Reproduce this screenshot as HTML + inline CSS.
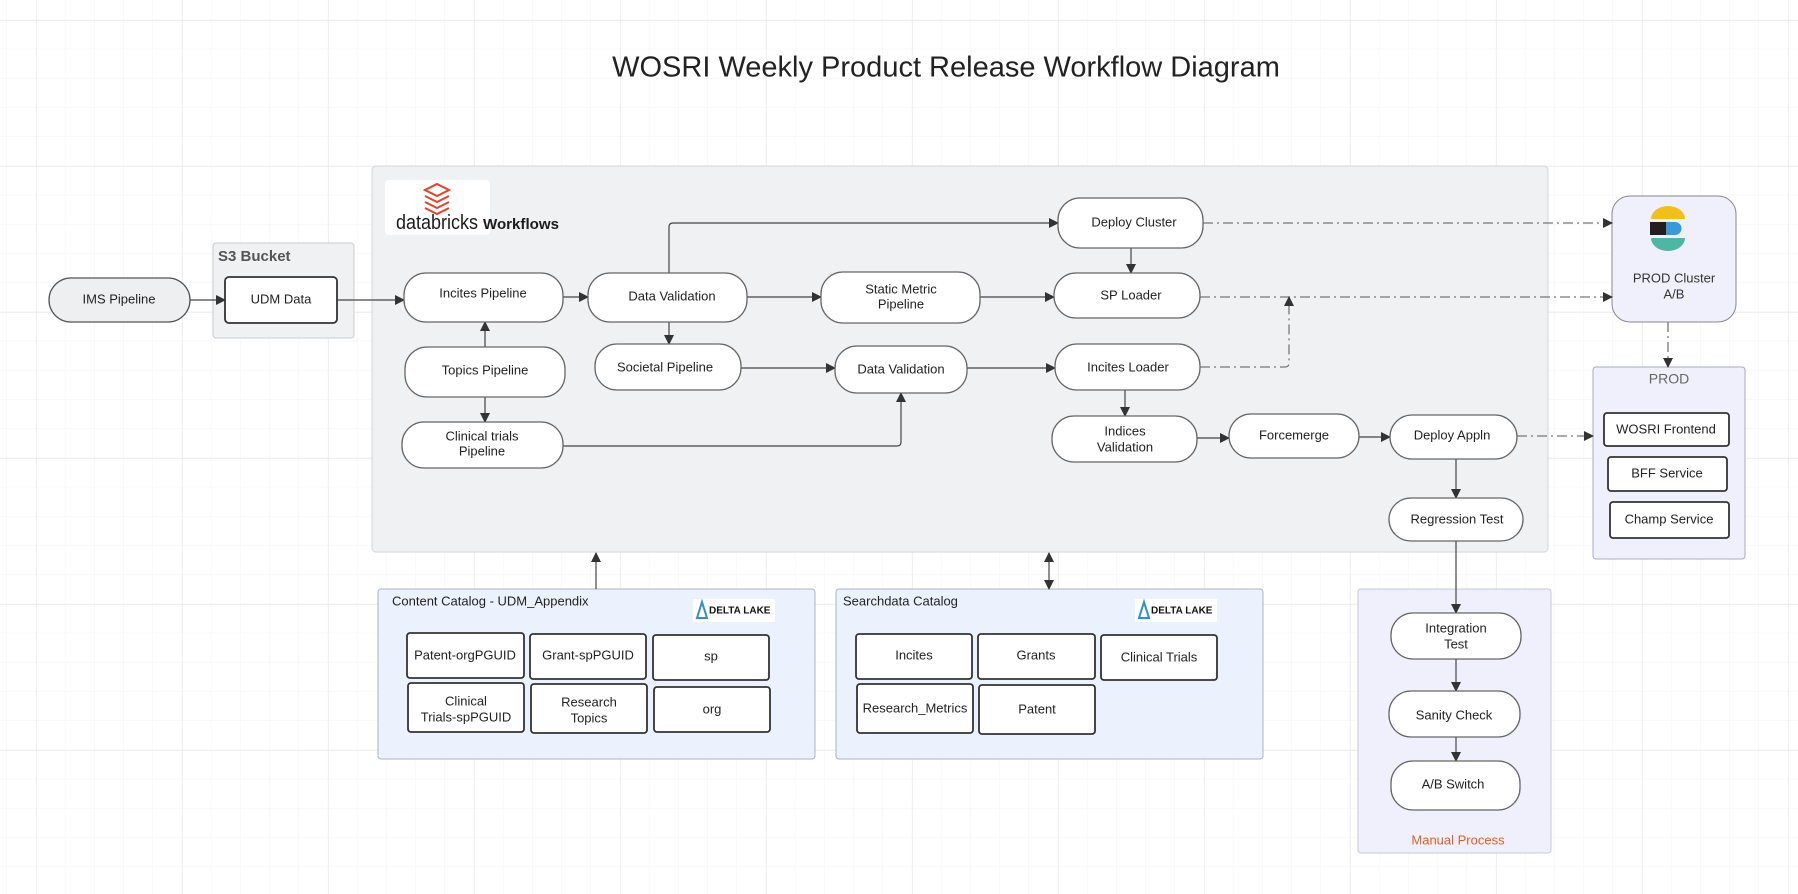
<!DOCTYPE html>
<html><head><meta charset="utf-8"><style>
html,body{margin:0;padding:0;background:#fff}
svg{display:block;font-family:"Liberation Sans",sans-serif}
.p{fill:#fff;stroke:#666;stroke-width:1.3}
.c{fill:#fff;stroke:#333;stroke-width:1.8}
.t{font-size:13px;fill:#222;text-anchor:middle;dominant-baseline:middle}
.l{stroke:#444;stroke-width:1.2;fill:none}
.d{stroke:#777;stroke-width:1.3;fill:none;stroke-dasharray:10 4 2 4}
</style></head><body>
<svg width="1798" height="894" viewBox="0 0 1798 894">
<defs>
<pattern id="g1" width="29.2" height="29.2" patternUnits="userSpaceOnUse" x="7" y="20"><path d="M29.2 0V29.2H0" fill="none" stroke="#f3f3f3" stroke-width="1"/></pattern>
<pattern id="g2" width="146" height="146" patternUnits="userSpaceOnUse" x="36" y="20"><path d="M0 0V146M0 0H146" fill="none" stroke="#e2e2e2" stroke-width="1"/></pattern>
<marker id="a" markerWidth="10" markerHeight="10" refX="9" refY="5" orient="auto" markerUnits="userSpaceOnUse"><path d="M0 0L10 5L0 10z" fill="#333"/></marker>
<marker id="s" markerWidth="10" markerHeight="10" refX="1" refY="5" orient="auto" markerUnits="userSpaceOnUse"><path d="M10 0L0 5L10 10z" fill="#333"/></marker>
</defs>
<rect width="1798" height="894" fill="url(#g1)"/>
<rect width="1798" height="894" fill="url(#g2)"/>
<text x="946" y="69" font-size="29" fill="#222" text-anchor="middle" dominant-baseline="middle">WOSRI Weekly Product Release Workflow Diagram</text>

<rect x="372" y="166" width="1176" height="386" rx="4" fill="#f0f1f3" stroke="#d3d5da"/>
<rect x="385" y="180" width="105" height="55" rx="4" fill="#fff"/>
<g fill="none" stroke="#e2412b" stroke-width="2"><path d="M425 190l12-6 12 6-12 6z"/><path d="M425 196l12 6 12-6"/><path d="M425 202l12 6 12-6"/><path d="M425 208l12 6 12-6"/></g>
<text x="396" y="229" font-size="20" fill="#1b1b1b" textLength="82" lengthAdjust="spacingAndGlyphs">databricks</text>
<text x="483" y="229" font-size="15" fill="#1b1b1b" font-weight="bold" textLength="76" lengthAdjust="spacingAndGlyphs">Workflows</text>

<rect x="213" y="243" width="141" height="95" rx="3" fill="#f0f1f3" stroke="#c9cbd0"/>
<text x="218" y="257" font-size="15" font-weight="bold" fill="#555" dominant-baseline="middle">S3 Bucket</text>

<rect x="1612" y="196" width="124" height="126" rx="18" fill="#f0f0fc" stroke="#888"/>
<g><path d="M1651 219a17 13 0 0 1 34 0z" fill="#f0bf1a"/><rect x="1650" y="222" width="16" height="13" fill="#231f20"/><path d="M1666 222h9a6.5 6.5 0 0 1 0 13h-9z" fill="#3a9ad9"/><path d="M1651 238h34a17 13 0 0 1-34 0z" fill="#4fb6a3"/></g>
<text class="t" x="1674" y="279" style="font-size:13px;fill:#333">PROD Cluster</text>
<text class="t" x="1674" y="295" style="font-size:13px;fill:#333">A/B</text>

<rect x="1593" y="367" width="152" height="192" rx="3" fill="#f0f0fc" stroke="#a9abc4"/>
<text class="t" x="1669" y="380" style="fill:#666;font-size:14px">PROD</text>

<rect x="378" y="589" width="437" height="170" rx="3" fill="#ebf2fd" stroke="#a8b3c4"/>
<text x="392" y="602" font-size="13" fill="#222" dominant-baseline="middle">Content Catalog - UDM_Appendix</text>
<rect x="836" y="589" width="427" height="170" rx="3" fill="#ebf2fd" stroke="#a8b3c4"/>
<text x="843" y="602" font-size="13" fill="#222" dominant-baseline="middle">Searchdata Catalog</text>
<g>
<rect x="693" y="599" width="82" height="23" fill="#fff"/><path d="M702 602l-5 16h10z" fill="none" stroke="#2e8fd1" stroke-width="2"/><text x="709" y="611" font-size="10" font-weight="bold" fill="#111" dominant-baseline="middle">DELTA LAKE</text>
<rect x="1135" y="599" width="82" height="23" fill="#fff"/><path d="M1144 602l-5 16h10z" fill="none" stroke="#2e8fd1" stroke-width="2"/><text x="1151" y="611" font-size="10" font-weight="bold" fill="#111" dominant-baseline="middle">DELTA LAKE</text>
</g>

<rect x="1358" y="589" width="193" height="264" rx="3" fill="#f0f0fc" stroke="#c5c7dc"/>
<text class="t" x="1458" y="841" style="fill:#d9622b">Manual Process</text>

<path class="l" d="M190 300H225" marker-end="url(#a)"/>
<path class="l" d="M337 300H404" marker-end="url(#a)"/>
<path class="l" d="M563 297H588" marker-end="url(#a)"/>
<path class="l" d="M747 297H821" marker-end="url(#a)"/>
<path class="l" d="M669 273V227q0-4 4-4H1058" marker-end="url(#a)"/>
<path class="l" d="M669 322V344" marker-end="url(#a)"/>
<path class="l" d="M485 347V322" marker-end="url(#a)"/>
<path class="l" d="M485 397V422" marker-end="url(#a)"/>
<path class="l" d="M741 368H835" marker-end="url(#a)"/>
<path class="l" d="M563 446H897q4 0 4-4V393" marker-end="url(#a)"/>
<path class="l" d="M967 368H1055" marker-end="url(#a)"/>
<path class="l" d="M980 297H1054" marker-end="url(#a)"/>
<path class="l" d="M1131 248V273" marker-end="url(#a)"/>
<path class="l" d="M1125 390V416" marker-end="url(#a)"/>
<path class="l" d="M1197 438H1229" marker-end="url(#a)"/>
<path class="l" d="M1359 437H1390" marker-end="url(#a)"/>
<path class="l" d="M1456 459V498" marker-end="url(#a)"/>
<path class="l" d="M1456 541V613" marker-end="url(#a)"/>
<path class="l" d="M1456 659V691" marker-end="url(#a)"/>
<path class="l" d="M1456 737V761" marker-end="url(#a)"/>
<path class="l" d="M596 589V553" marker-end="url(#a)"/>
<path class="l" d="M1049 553V589" marker-start="url(#s)" marker-end="url(#a)"/>
<path class="d" d="M1203 223H1612" marker-end="url(#a)"/>
<path class="d" d="M1200 297H1612" marker-end="url(#a)"/>
<path class="d" d="M1200 367H1285q4 0 4-4V297" marker-end="url(#a)"/>
<path class="d" d="M1668 322V367" marker-end="url(#a)"/>
<path class="d" d="M1517 436H1593" marker-end="url(#a)"/>

<rect x="49" y="278" width="141" height="44" rx="22" fill="#eeeff1" stroke="#555" stroke-width="1.3"/><text class="t" x="119" y="300">IMS Pipeline</text>
<rect class="c" x="225" y="277" width="112" height="46" rx="4"/><text class="t" x="281" y="300">UDM Data</text>
<rect class="p" x="404" y="273" width="159" height="49" rx="22"/><text class="t" x="483" y="294">Incites Pipeline</text>
<rect class="p" x="588" y="273" width="159" height="49" rx="22"/><text class="t" x="672" y="297">Data Validation</text>
<rect class="p" x="405" y="347" width="160" height="50" rx="22"/><text class="t" x="485" y="371">Topics Pipeline</text>
<rect class="p" x="595" y="344" width="146" height="46" rx="22"/><text class="t" x="665" y="368">Societal Pipeline</text>
<rect class="p" x="402" y="422" width="161" height="46" rx="22"/><text class="t" x="482" y="437">Clinical trials</text><text class="t" x="482" y="452">Pipeline</text>
<rect class="p" x="821" y="272" width="159" height="51" rx="22"/><text class="t" x="901" y="290">Static Metric</text><text class="t" x="901" y="305">Pipeline</text>
<rect class="p" x="835" y="346" width="132" height="47" rx="22"/><text class="t" x="901" y="370">Data Validation</text>
<rect class="p" x="1058" y="198" width="145" height="50" rx="22"/><text class="t" x="1134" y="223">Deploy Cluster</text>
<rect class="p" x="1054" y="273" width="146" height="45" rx="22"/><text class="t" x="1131" y="296">SP Loader</text>
<rect class="p" x="1055" y="344" width="145" height="46" rx="22"/><text class="t" x="1128" y="368">Incites Loader</text>
<rect class="p" x="1052" y="416" width="145" height="46" rx="22"/><text class="t" x="1125" y="432">Indices</text><text class="t" x="1125" y="448">Validation</text>
<rect class="p" x="1229" y="414" width="130" height="44" rx="22"/><text class="t" x="1294" y="436">Forcemerge</text>
<rect class="p" x="1390" y="415" width="127" height="44" rx="22"/><text class="t" x="1452" y="436">Deploy Appln</text>
<rect class="p" x="1389" y="498" width="134" height="43" rx="22"/><text class="t" x="1457" y="520">Regression Test</text>
<rect class="c" x="1604" y="413" width="125" height="33" rx="3"/><text class="t" x="1666" y="430">WOSRI Frontend</text>
<rect class="c" x="1608" y="457" width="119" height="34" rx="3"/><text class="t" x="1667" y="474">BFF Service</text>
<rect class="c" x="1610" y="502" width="119" height="36" rx="3"/><text class="t" x="1669" y="520">Champ Service</text>
<rect class="p" x="1391" y="613" width="130" height="46" rx="22"/><text class="t" x="1456" y="629">Integration</text><text class="t" x="1456" y="645">Test</text>
<rect class="p" x="1389" y="691" width="131" height="46" rx="22"/><text class="t" x="1454" y="716">Sanity Check</text>
<rect class="p" x="1391" y="761" width="129" height="49" rx="22"/><text class="t" x="1453" y="785">A/B Switch</text>

<rect class="c" x="407" y="633" width="117" height="45" rx="3"/><text class="t" x="465" y="656">Patent-orgPGUID</text>
<rect class="c" x="530" y="634" width="116" height="45" rx="3"/><text class="t" x="588" y="656">Grant-spPGUID</text>
<rect class="c" x="653" y="635" width="116" height="45" rx="3"/><text class="t" x="711" y="657">sp</text>
<rect class="c" x="408" y="683" width="116" height="49" rx="3"/><text class="t" x="466" y="702">Clinical</text><text class="t" x="466" y="718">Trials-spPGUID</text>
<rect class="c" x="531" y="684" width="116" height="49" rx="3"/><text class="t" x="589" y="703">Research</text><text class="t" x="589" y="719">Topics</text>
<rect class="c" x="654" y="687" width="116" height="45" rx="3"/><text class="t" x="712" y="710">org</text>
<rect class="c" x="856" y="634" width="116" height="45" rx="3"/><text class="t" x="914" y="656">Incites</text>
<rect class="c" x="978" y="634" width="117" height="45" rx="3"/><text class="t" x="1036" y="656">Grants</text>
<rect class="c" x="1101" y="635" width="116" height="45" rx="3"/><text class="t" x="1159" y="658">Clinical Trials</text>
<rect class="c" x="857" y="684" width="116" height="49" rx="3"/><text class="t" x="915" y="709">Research_Metrics</text>
<rect class="c" x="979" y="685" width="116" height="49" rx="3"/><text class="t" x="1037" y="710">Patent</text>
</svg>
</body></html>
